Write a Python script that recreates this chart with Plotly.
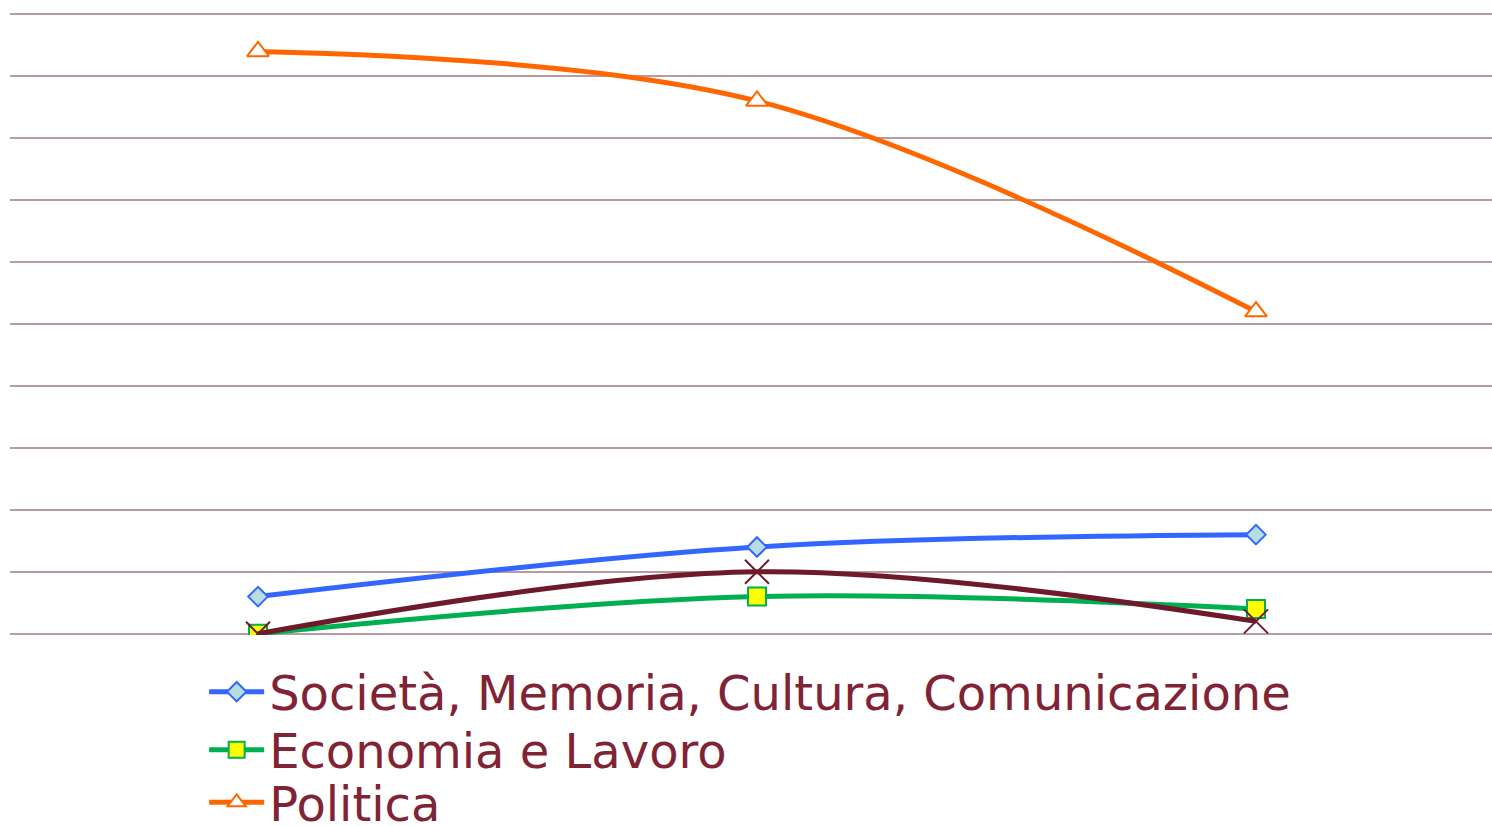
import plotly.graph_objects as go

# categorie (etichette non visibili nel grafico originale)
periodi = ["P1", "P2", "P3"]

societa = [3, 7, 8]
economia = [0, 3, 2]
politica = [47, 43, 26]
altro = [0, 5, 1]

nomi = [
    "Società, Memoria, Cultura, Comunicazione",
    "Economia e Lavoro",
    "Politica",
    "Altro",
]

GRID = "#b79ba1"
TESTO = "#7f2335"
FONT = "Verdana, DejaVu Sans, sans-serif"

fig = go.Figure()

serie = [
    (societa, nomi[0], "#3366ff", "diamond", 15, "#b7dde3", "legend"),
    (economia, nomi[1], "#00b050", "square", 18, "#ffff00", "legend2"),
    (politica, nomi[2], "#ff6600", "triangle-up", 19, "#ffffff", "legend3"),
]
for valori, nome, colore, simbolo, dim, riemp, leg in serie:
    fig.add_trace(
        go.Scatter(
            x=periodi,
            y=valori,
            name=nome,
            mode="lines+markers",
            line={"color": colore, "width": 5, "shape": "spline", "smoothing": 1},
            marker={
                "symbol": simbolo,
                "size": dim,
                "color": riemp,
                "line": {"color": colore, "width": 2},
            },
            legend=leg,
        )
    )

fig.add_trace(
    go.Scatter(
        x=periodi,
        y=altro,
        name=nomi[3],
        mode="lines+markers",
        line={"color": "#6e1a2b", "width": 5, "shape": "spline", "smoothing": 1},
        marker={
            "symbol": "x-thin-open",
            "size": 24,
            "color": "#6e1a2b",
            "line": {"color": "#6e1a2b", "width": 2},
        },
        showlegend=False,
    )
)


def legenda(y):
    return {
        "x": 0.131,
        "xanchor": "left",
        "y": y,
        "yanchor": "middle",
        "bgcolor": "rgba(0,0,0,0)",
        "font": {"family": FONT, "size": 48, "color": TESTO},
        "itemwidth": 55,
    }


fig.update_layout(
    width=1492,
    height=826,
    margin={"l": 10, "r": 0, "t": 13, "b": 191, "autoexpand": False},
    paper_bgcolor="white",
    plot_bgcolor="white",
    showlegend=True,
    legend=legenda(-0.0916),
    legend2=legenda(-0.1849),
    legend3=legenda(-0.2695),
    xaxis={
        "range": [-0.497, 2.473],
        "showticklabels": False,
        "showgrid": False,
        "zeroline": False,
        "showline": False,
        "ticks": "",
    },
    yaxis={
        "range": [-0.1, 50.1],
        "dtick": 5,
        "showticklabels": False,
        "showgrid": True,
        "gridcolor": GRID,
        "gridwidth": 2,
        "zeroline": False,
        "showline": False,
        "ticks": "",
    },
)

fig.write_html(
    "out.html",
    config={"displayModeBar": False},
    post_script="document.body.style.margin='0';document.body.style.overflow='hidden';",
)
